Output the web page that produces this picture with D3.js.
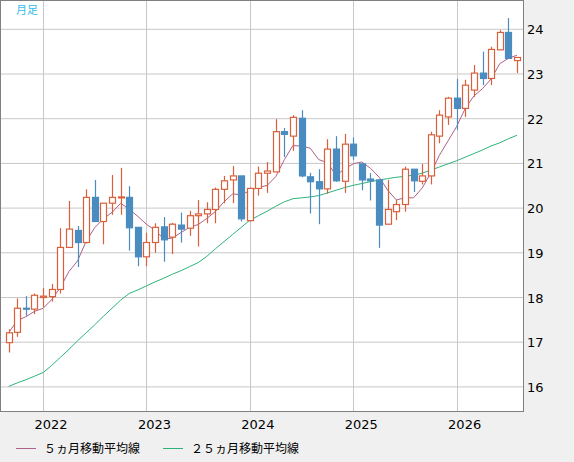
<!DOCTYPE html>
<html><head><meta charset="utf-8">
<script src="https://cdn.jsdelivr.net/npm/d3@7"></script>
<style>body{margin:0;background:#f0f0f0}svg{display:block}</style>
</head><body><svg id="c" width="574" height="462"></svg>
<script>
const opens  = [16.99,17.22,17.76,17.74,18.00,18.02,18.18,19.12,19.50,19.23,20.24,19.70,20.11,20.24,20.24,19.57,18.91,19.23,19.58,19.35,19.62,19.55,19.83,19.87,19.97,20.42,20.63,20.72,19.72,20.44,20.78,20.81,21.71,21.61,22.01,20.70,20.59,20.43,21.32,20.60,21.43,20.99,20.65,20.63,19.64,19.92,20.08,20.87,20.60,20.72,21.61,22.04,22.46,22.23,22.64,23.02,22.90,23.54,23.93,23.30];
const highs  = [17.29,17.98,18.03,18.09,18.21,18.30,19.55,20.16,19.60,20.42,20.63,20.11,20.74,20.90,20.49,19.57,19.45,19.66,19.80,19.67,19.90,19.94,20.18,20.13,20.46,20.72,20.94,20.72,20.46,20.93,21.03,21.99,21.79,22.08,22.19,20.79,20.87,21.54,21.61,21.66,21.58,20.99,20.78,20.63,20.63,20.18,20.93,20.87,20.99,21.71,22.19,22.49,22.89,22.87,23.20,23.50,23.61,23.98,24.25,23.37];
const lows   = [16.77,17.12,17.59,17.63,17.79,17.91,18.09,19.12,18.68,19.21,19.70,19.19,19.85,19.85,19.05,18.70,18.70,19.00,18.80,18.97,19.23,19.38,19.14,19.66,19.66,20.11,20.11,19.70,19.70,20.28,20.34,20.81,21.14,21.28,20.69,19.88,19.64,20.32,20.59,20.34,21.08,20.40,20.17,19.11,19.64,19.73,19.92,20.36,20.53,20.53,21.45,21.86,21.75,22.04,22.49,22.75,22.75,23.54,23.35,23.02];
const closes = [17.21,17.76,17.74,18.05,18.03,18.18,19.12,19.53,19.23,20.24,19.70,20.11,20.24,20.25,19.56,18.91,19.23,19.57,19.29,19.64,19.53,19.83,19.87,19.97,20.42,20.61,20.72,19.76,20.44,20.78,20.83,21.71,21.65,22.03,20.72,20.59,20.43,21.32,20.61,21.43,21.17,20.63,20.61,19.62,19.97,20.08,20.87,20.61,20.72,21.64,22.08,22.46,22.23,22.75,23.02,22.90,23.55,23.93,23.35,23.37];
const ma25   = [16.01,16.09,16.16,16.24,16.32,16.48,16.66,16.84,17.03,17.21,17.39,17.58,17.76,17.94,18.09,18.17,18.26,18.35,18.43,18.52,18.60,18.69,18.78,18.92,19.09,19.25,19.41,19.57,19.73,19.83,19.93,20.04,20.14,20.21,20.23,20.25,20.28,20.34,20.40,20.46,20.51,20.55,20.59,20.63,20.66,20.69,20.71,20.74,20.78,20.85,20.92,20.99,21.06,21.14,21.22,21.30,21.39,21.46,21.55,21.63];
const yTicks = [16,17,18,19,20,21,22,23,24];
const yearLabels = ["2022","2023","2024","2025","2026"];
const yearIdx = [4,16,28,40,52];
const legendLabels = ["５ヵ月移動平均線","２５ヵ月移動平均線"];

const ma5 = closes.map((c,i)=>{const s=closes.slice(Math.max(0,i-4),i+1);return d3.mean(s);});

const W=523,H=412;
const svg=d3.select("#c");
const x=d3.scaleLinear().domain([-1,59.7]).range([0,W]);
const y=d3.scaleLinear().domain([16,24]).range([386.9,29.3]);
svg.append("rect").attr("x",0).attr("y",0).attr("width",W).attr("height",H).attr("fill","#fff");
const g=svg.append("g");
g.selectAll(".hg").data(yTicks).join("line").attr("x1",0).attr("x2",W).attr("y1",d=>y(d)).attr("y2",d=>y(d)).attr("stroke","#c8c8c8");
g.selectAll(".vg").data(yearIdx).join("line").attr("x1",d=>Math.round(x(d))+0.5).attr("x2",d=>Math.round(x(d))+0.5).attr("y1",0).attr("y2",H).attr("stroke","#c8c8c8");
svg.append("rect").attr("x",0.5).attr("y",0.5).attr("width",W).attr("height",H-1).attr("fill","none").attr("stroke","#808080");

const idx=d3.range(closes.length);
const line=d3.line().x(i=>x(i));
g.append("path").attr("d",line.y(i=>y(ma25[i]))(idx)).attr("fill","none").attr("stroke","#2db37a").attr("stroke-width",1);
g.append("path").attr("d",d3.line().x(i=>x(i)).y(i=>y(ma5[i]))(idx)).attr("fill","none").attr("stroke","#b0608a").attr("stroke-width",1);

const up="#d9603b",dn="#4a8cc0";
const cg=g.selectAll(".cd").data(idx).join("g");
cg.append("line").attr("x1",i=>Math.round(x(i))+0.5).attr("x2",i=>Math.round(x(i))+0.5)
  .attr("y1",i=>y(highs[i])).attr("y2",i=>y(lows[i])).attr("stroke",i=>closes[i]>=opens[i]?up:dn).attr("stroke-width",1.2);
cg.append("rect").attr("x",i=>Math.round(x(i))-2.5).attr("width",6)
  .attr("y",i=>y(Math.max(opens[i],closes[i])))
  .attr("height",i=>Math.max(1,Math.abs(y(opens[i])-y(closes[i]))))
  .attr("fill",i=>closes[i]>=opens[i]?"#fff":dn)
  .attr("stroke",i=>closes[i]>=opens[i]?up:dn).attr("stroke-width",1.2);

svg.append("text").attr("x",16).attr("y",14).text("月足").attr("fill","#33bbee").attr("font-size",11).attr("font-family","Noto Sans CJK JP");
svg.selectAll(".yl").data(yTicks).join("text").attr("x",W+4).attr("y",d=>y(d)+5).text(d=>d)
  .attr("font-family","DejaVu Sans").attr("font-size",13).attr("fill","#000");
svg.selectAll(".xl").data(yearIdx).join("text").attr("x",d=>x(d)+8).attr("y",429).attr("text-anchor","middle").text((d,i)=>yearLabels[i])
  .attr("font-family","DejaVu Sans").attr("font-size",13).attr("fill","#000");
const lg=[{x:16,c:"#b0608a"},{x:163,c:"#2db37a"}];
lg.forEach((l,i)=>{
  svg.append("line").attr("x1",l.x).attr("x2",l.x+20).attr("y1",448.5).attr("y2",448.5).attr("stroke",l.c);
  svg.append("text").attr("x",l.x+28).attr("y",453).text(legendLabels[i]).attr("font-size",12).attr("font-family","Noto Sans CJK JP").attr("fill","#000");
});
</script></body></html>
